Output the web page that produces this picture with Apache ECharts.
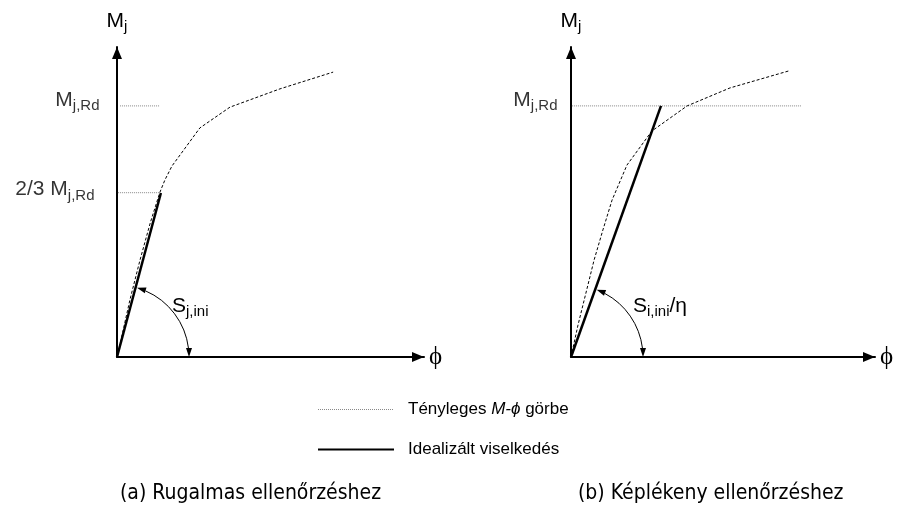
<!DOCTYPE html>
<html>
<head>
<meta charset="UTF-8">
<script src="https://cdn.jsdelivr.net/npm/echarts@6/dist/echarts.min.js"></script>
</head>
<body style="margin:0;background:#fff">
<div id="main" style="width:905px;height:515px"></div>
<script>
// (a) bal oldali ábra
var curveA = [[0, 0], [1.3, 5.5], [4.2, 18.4], [7.5, 31.3], [10.9, 43.5], [14.0, 53.2],
  [15.6, 57.1], [17.9, 61.6], [27.0, 73.9], [36.8, 80.6], [53.1, 86.5], [70.4, 91.9]];
var idealA = [[0, 0], [14.3, 52.9]];
var mRdA = 81.0;
var mRd23A = 53.0;
var refMrdA = [[1.0, mRdA], [14.0, mRdA]];
var ref23A = [[0.3, mRd23A], [14.0, mRd23A]];

// (b) jobb oldali ábra
var curveB = [[0, 0], [2.3, 10.3], [4.9, 20.6], [7.6, 31.3], [10.5, 41.0], [13.5, 50.6],
  [18.4, 61.9], [26.6, 72.9], [38.2, 81.0], [52.3, 86.8], [71.7, 92.3]];
var idealB = [[0, 0], [29.6, 81.0]];
var mRdB = 81.0;
var refMrdB = [[0.3, mRdB], [75.7, mRdB]];

var captions = ['(a) Rugalmas ellenőrzéshez', '(b) Képlékeny ellenőrzéshez'];

var chart = echarts.init(document.getElementById('main'));

var SANS = 'Liberation Sans';
var NARROW = '"DejaVu Sans Condensed", "Liberation Sans"';
var subRich = {
  M: { fontFamily: SANS, fontSize: 21, color: '#000', lineHeight: 24 },
  s: { fontFamily: SANS, fontSize: 15, color: '#000', lineHeight: 14, padding: [12, 0, 0, 0] },
  t: { fontFamily: SANS, fontSize: 21, color: '#000', lineHeight: 24 }
};

function xAx(grid) {
  return {
    gridIndex: grid, type: 'value', min: 0, max: 100,
    axisLine: { show: true, lineStyle: { color: '#000', width: 2 }, symbol: ['none', 'triangle'], symbolSize: [10, 12], symbolOffset: [0, -6] },
    axisTick: { show: false }, axisLabel: { show: false }, splitLine: { show: false },
    name: 'ϕ', nameLocation: 'end', nameGap: 5,
    nameTextStyle: { fontFamily: 'Liberation Serif', fontSize: 25, color: '#000' }
  };
}
function yAx(grid) {
  return {
    gridIndex: grid, type: 'value', min: 0, max: 100,
    axisLine: { show: true, lineStyle: { color: '#000', width: 2 }, symbol: ['none', 'triangle'], symbolSize: [10, 12], symbolOffset: [0, -6] },
    axisTick: { show: false }, axisLabel: { show: false }, splitLine: { show: false },
    name: '{M|M}{s|j}', nameLocation: 'end', nameGap: 14,
    nameTextStyle: { rich: subRich, align: 'center' }
  };
}

function arcRender(label, dx) {
  return function (params, api) {
    var o = api.coord([api.value(0), api.value(1)]);
    var e = api.coord([api.value(2), api.value(3)]);
    var r = 72, L = 9, W = 6;
    var t1 = Math.atan2(e[1] - o[1], e[0] - o[0]) + 0.02;
    var t2 = 0;
    function head(t, dir) {
      var px = o[0] + r * Math.cos(t), py = o[1] + r * Math.sin(t);
      var dX = -Math.sin(t) * dir, dY = Math.cos(t) * dir;
      var bx = px - dX * L, by = py - dY * L;
      var nx = -dY, ny = dX;
      return [[px, py], [bx + nx * W / 2, by + ny * W / 2], [bx - nx * W / 2, by - ny * W / 2]];
    }
    return {
      type: 'group',
      children: [
        { type: 'arc', shape: { cx: o[0], cy: o[1], r: r, startAngle: t1 + L / r, endAngle: t2 - L / r, clockwise: true },
          style: { stroke: '#000', fill: null, lineWidth: 1 } },
        { type: 'polygon', shape: { points: head(t1, -1) }, style: { fill: '#000' } },
        { type: 'polygon', shape: { points: head(t2, 1) }, style: { fill: '#000' } },
        { type: 'text', x: o[0] + dx, y: o[1] - 51,
          style: { text: label, rich: subRich, verticalAlign: 'middle', align: 'left' } }
      ]
    };
  };
}

function realLine(idx, data) {
  return { name: 'real', type: 'line', xAxisIndex: idx, yAxisIndex: idx, data: data, symbol: 'none',
    lineStyle: { color: '#000', width: 1, type: [3, 2] }, itemStyle: { color: '#000' }, silent: true };
}
function idealLine(idx, data) {
  return { name: 'ideal', type: 'line', xAxisIndex: idx, yAxisIndex: idx, data: data, symbol: 'none',
    lineStyle: { color: '#000', width: 2.5 }, itemStyle: { color: '#000' }, z: 3, silent: true };
}
function refLine(idx, data) {
  return { name: 'ref', type: 'line', xAxisIndex: idx, yAxisIndex: idx, data: data, symbol: 'none',
    lineStyle: { color: '#888', width: 1, type: 'dotted' }, silent: true };
}
function lbl(text, dist, dy) {
  return { show: true, position: 'left', distance: dist, offset: [0, dy], formatter: text, rich: subRich };
}

var hidden = { color: 'transparent', borderWidth: 0, opacity: 0 };

var option = {
  animation: false,
  backgroundColor: '#fff',
  grid: [
    { left: 117, top: 47, width: 307, height: 310 },
    { left: 571, top: 47, width: 304, height: 310 }
  ],
  xAxis: [xAx(0), xAx(1)],
  yAxis: [yAx(0), yAx(1)],
  title: [
    { text: captions[0], left: 120, top: 483, padding: 0, textStyle: { fontFamily: NARROW, fontSize: 21, fontWeight: 'normal', color: '#000' } },
    { text: captions[1], left: 578, top: 483, padding: 0, textStyle: { fontFamily: NARROW, fontSize: 21, fontWeight: 'normal', color: '#000' } }
  ],
  legend: {
    orient: 'vertical', left: 312, top: 396, itemWidth: 76, itemHeight: 14, itemGap: 23,
    selectedMode: false,
    data: [
      { name: 'real', lineStyle: { color: '#888', width: 1, type: 'dotted' }, itemStyle: hidden },
      { name: 'ideal', lineStyle: { color: '#000', width: 2 }, itemStyle: hidden }
    ],
    formatter: function (name) {
      return name === 'real' ? '{sp|}Tényleges {i|M-ϕ} görbe' : '{sp|}Idealizált viselkedés';
    },
    textStyle: {
      fontFamily: SANS, fontSize: 17, color: '#000',
      rich: {
        sp: { width: 9 },
        i: { fontFamily: SANS, fontSize: 17, fontStyle: 'italic', color: '#000' }
      }
    }
  },
  series: [
    refLine(0, refMrdA), refLine(0, ref23A),
    realLine(0, curveA), idealLine(0, idealA),
    { type: 'scatter', xAxisIndex: 0, yAxisIndex: 0, symbolSize: 1, itemStyle: { color: 'transparent' }, silent: true,
      data: [
        { value: [0, mRdA], label: lbl('{M|M}{s|j,Rd}', 17, -6) },
        { value: [0, mRd23A], label: lbl('{t|2/3 M}{s|j,Rd}', 22, -3) }
      ] },
    { type: 'custom', xAxisIndex: 0, yAxisIndex: 0, renderItem: arcRender('{M|S}{s|j,ini}', 55),
      data: [[idealA[0][0], idealA[0][1], idealA[1][0], idealA[1][1]]], encode: { x: 0, y: 1 }, silent: true },

    refLine(1, refMrdB),
    realLine(1, curveB), idealLine(1, idealB),
    { type: 'scatter', xAxisIndex: 1, yAxisIndex: 1, symbolSize: 1, itemStyle: { color: 'transparent' }, silent: true,
      data: [
        { value: [0, mRdB], label: lbl('{M|M}{s|j,Rd}', 13, -6) }
      ] },
    { type: 'custom', xAxisIndex: 1, yAxisIndex: 1, renderItem: arcRender('{M|S}{s|i,ini}{t|/η}', 62),
      data: [[idealB[0][0], idealB[0][1], idealB[1][0], idealB[1][1]]], encode: { x: 0, y: 1 }, silent: true }
  ]
};
chart.setOption(option);
</script>
</body>
</html>
